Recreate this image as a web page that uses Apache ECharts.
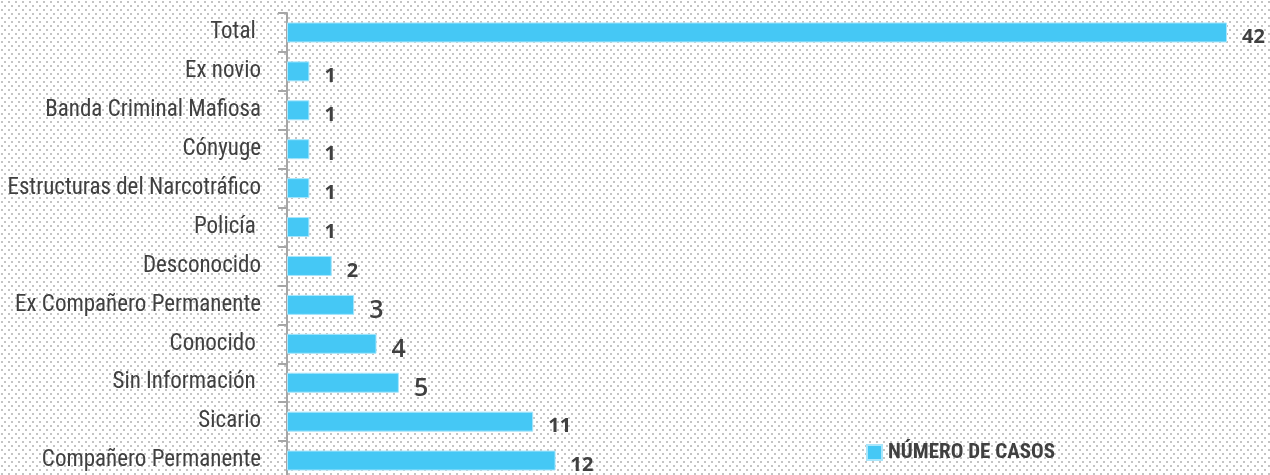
<!DOCTYPE html>
<html>
<head>
<meta charset="utf-8">
<script src="https://cdn.jsdelivr.net/npm/echarts@6/dist/echarts.min.js"></script>
<style>
html,body{margin:0;padding:0;background:#fff;}
#c{width:1270px;height:475px;}
</style>
</head>
<body>
<div id="c"></div>
<script>
const categories = ["Total ", "Ex novio", "Banda Criminal Mafiosa", "Cónyuge", "Estructuras del Narcotráfico", "Policía ", "Desconocido", "Ex Compañero Permanente", "Conocido ", "Sin Información ", "Sicario", "Compañero Permanente"];
const casos = [42, 1, 1, 1, 1, 1, 2, 3, 4, 5, 11, 12];
const seriesName = "NÚMERO DE CASOS";

// dotted background tile
const tile = document.createElement('canvas');
tile.width = 7; tile.height = 8;
const tc = tile.getContext('2d');
tc.fillStyle = '#ffffff';
tc.fillRect(0, 0, 7, 8);
tc.fillStyle = '#c4c4c4';
tc.fillRect(1, 1, 2, 2);
tc.fillRect(4, 5, 2, 2);

const condensed = "'Liberation Sans Narrow', 'Roboto Condensed', 'DejaVu Sans Condensed', sans-serif";
const bigDigits = new Set([3, 4, 5]);

const chart = echarts.init(document.getElementById('c'));
chart.setOption({
  animation: false,
  backgroundColor: { image: tile, repeat: 'repeat' },
  grid: { left: 287, right: 43, top: 13, height: 467, containLabel: false, outerBoundsMode: 'none' },
  legend: {
    data: [seriesName],
    left: 861, top: 437,
    itemWidth: 15, itemHeight: 15, itemGap: 5,
    icon: 'rect',
    textStyle: { fontFamily: condensed, fontSize: 21, fontWeight: 'bold', color: '#404040', padding: [0, 0, 0, 1] }
  },
  xAxis: { type: 'value', min: 0, max: 42, show: false },
  yAxis: {
    type: 'category', inverse: true, data: categories,
    axisLine: { show: true, lineStyle: { color: '#a6a6a6', width: 2 } },
    axisTick: { show: true, length: 9, lineStyle: { color: '#a6a6a6', width: 2 } },
    axisLabel: { margin: 26, fontFamily: condensed, fontSize: 23, color: '#404040' },
    splitLine: { show: false }
  },
  series: [{
    name: seriesName,
    type: 'bar',
    data: casos.map(v => ({
      value: v,
      label: bigDigits.has(v)
        ? { fontSize: 25, fontWeight: 600, offset: [0, 6] }
        : { fontSize: 20, fontWeight: 'bold', offset: [0, 5] }
    })),
    barWidth: 20,
    itemStyle: { color: '#45c8f5', borderColor: '#a9e6fb', borderWidth: 1 },
    label: {
      show: true, position: 'right', distance: 15,
      fontFamily: "'Open Sans', sans-serif", color: '#404040'
    }
  }]
});
</script>
</body>
</html>
